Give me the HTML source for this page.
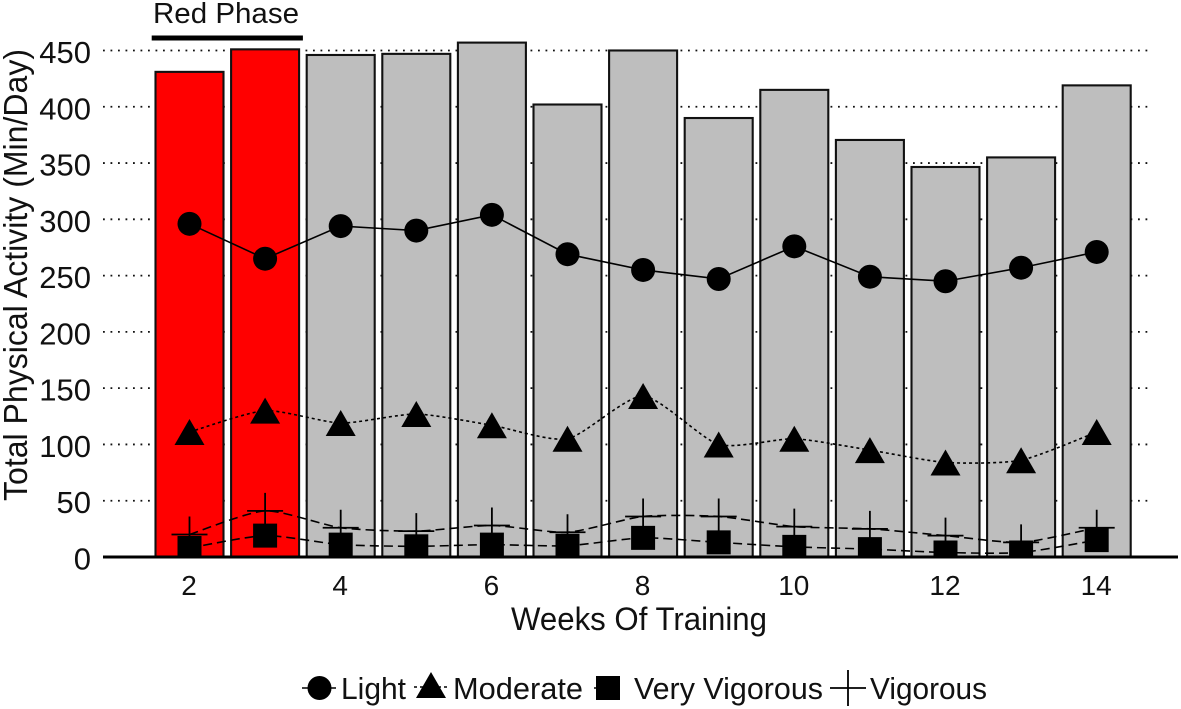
<!DOCTYPE html>
<html lang="en">
<head>
<meta charset="utf-8">
<title>Total Physical Activity by Week of Training</title>
<style>
  html, body { margin: 0; padding: 0; background: #fff; }
  svg { display: block; font-family: "Liberation Sans", Arial, sans-serif; fill: #111; filter: blur(0.35px); }
</style>
</head>
<body>
<svg id="chart" xmlns="http://www.w3.org/2000/svg" width="1181" height="709" viewBox="0 0 1181 709"></svg>
<script>
const weeks = [2, 3, 4, 5, 6, 7, 8, 9, 10, 11, 12, 13, 14];
const totalValues = [431, 451, 446, 447, 457, 402, 450, 390, 415, 370.5, 346.5, 355, 419];
const lightValues = [296, 265, 294, 290, 304, 269, 255, 247, 276, 249, 245, 257, 271];
const moderateValues = [111, 130, 119, 127, 117, 105, 143, 100, 105, 95, 84, 86, 111];
const vigorousValues = [20, 41, 26, 23, 28, 22, 36, 36, 27, 25, 19, 13, 26];
const veryVigorousValues = [8, 19, 11, 9.5, 11, 10, 17, 13, 9, 7, 4, 4, 15];
const yTicks = [0, 50, 100, 150, 200, 250, 300, 350, 400, 450];
const xTicks = [2, 4, 6, 8, 10, 12, 14];
const redPhaseWeeks = [2, 3];

const svg = document.getElementById('chart');
const NS = 'http://www.w3.org/2000/svg';
const xScale = w => 189.5 + (w - 2) * 75.6;
const yScale = v => 557 - v * 1.1256;
const BAR_W = 68;

function make(tag, attrs, parent) {
  const el = document.createElementNS(NS, tag);
  for (const k in attrs) el.setAttribute(k, attrs[k]);
  (parent || svg).appendChild(el);
  return el;
}
function smoothPath(xs, ys, k) {
  let d = 'M' + xs[0] + ' ' + ys[0];
  for (let i = 0; i < xs.length - 1; i++) {
    const p = Math.max(i - 1, 0), n = Math.min(i + 2, xs.length - 1);
    const c1x = xs[i] + (xs[i + 1] - xs[p]) * k;
    const c1y = ys[i] + (ys[i + 1] - ys[p]) * k;
    const c2x = xs[i + 1] - (xs[n] - xs[i]) * k;
    const c2y = ys[i + 1] - (ys[n] - ys[i]) * k;
    d += ' C' + c1x + ' ' + c1y + ' ' + c2x + ' ' + c2y + ' ' + xs[i + 1] + ' ' + ys[i + 1];
  }
  return d;
}
function drawCircle(x, y, parent) {
  return make('circle', { cx: x, cy: y, r: 12, fill: '#000' }, parent);
}
function drawTriangle(x, y, parent) {
  return make('polygon', { points: (x - 15) + ',' + (y + 13) + ' ' + x + ',' + (y - 13) + ' ' + (x + 15) + ',' + (y + 13), fill: '#000' }, parent);
}
function drawSquare(x, y, parent) {
  return make('rect', { x: x - 12, y: y - 12, width: 24, height: 24, fill: '#000' }, parent);
}
function drawCross(x, y, parent) {
  return make('path', { d: 'M' + (x - 18) + ' ' + y + 'H' + (x + 18) + 'M' + x + ' ' + (y - 18) + 'V' + (y + 18), stroke: '#000', 'stroke-width': 1.8, fill: 'none' }, parent);
}

/* gridlines */
const gridGroup = make('g', {});


yTicks.slice(1).forEach(t => {
  const line = make('line', { x1: 103, x2: 1150, y1: yScale(t), y2: yScale(t), stroke: '#111', 'stroke-width': 1.8, 'stroke-dasharray': '1.8 5.7' }, gridGroup);
  
  
});

/* bars */
const barGroup = make('g', {});


weeks.forEach((w, i) => {
  const isRed = redPhaseWeeks.includes(w);
  const bar = make('rect', {
    x: xScale(w) - BAR_W / 2, y: yScale(totalValues[i]),
    width: BAR_W, height: 557 - yScale(totalValues[i]),
    fill: isRed ? '#ff0000' : '#bebebe', stroke: '#111', 'stroke-width': 2.1
  }, barGroup);
  
  
});

/* series */
const xs = weeks.map(xScale);
const seriesList = [
  { key: 'light', values: lightValues, dash: 'none', width: 1.6, smooth: 0, marker: drawCircle },
  { key: 'moderate', values: moderateValues, dash: '3 3', width: 1.6, smooth: 0.11, marker: drawTriangle },
  { key: 'vigorous', values: vigorousValues, dash: '9 5', width: 1.6, smooth: 0.11, marker: drawCross },
  { key: 'very-vigorous', values: veryVigorousValues, dash: '9 5', width: 1.6, smooth: 0.11, marker: drawSquare }
];
const clip = make('clipPath', { id: 'plot-clip' });
make('rect', { x: 0, y: 0, width: 1181, height: 557 }, clip);
seriesList.forEach(s => {
  const group = make('g', { 'clip-path': 'url(#plot-clip)' });
  
  
  const line = make('path', {
    d: smoothPath(xs, s.values.map(yScale), s.smooth), fill: 'none', stroke: '#000',
    'stroke-width': s.width, 'stroke-dasharray': s.dash
  }, group);
  
  
  weeks.forEach((w, i) => {
    const mark = s.marker(xScale(w), yScale(s.values[i]), group);
    
    
  });
});

/* x axis line */
const xAxis = make('line', { x1: 103, x2: 1178, y1: 557, y2: 557, stroke: '#000', 'stroke-width': 3 });



/* tick labels */
yTicks.forEach(t => {
  const label = make('text', { x: 91, y: yScale(t) + 12.5, 'text-anchor': 'end', 'font-size': 31 });
  label.textContent = t;
  
  
});
xTicks.forEach(t => {
  const label = make('text', { x: xScale(t) - 0.5, y: 595, 'text-anchor': 'middle', 'font-size': 28 });
  label.textContent = t;
  
  
});

/* titles */
const xTitle = make('text', { x: 511, y: 630, 'font-size': 32, textLength: 256, lengthAdjust: 'spacingAndGlyphs' });
xTitle.textContent = 'Weeks Of Training';



const yTitle = make('text', { transform: 'translate(27 501) rotate(-90)', 'font-size': 33, textLength: 452, lengthAdjust: 'spacingAndGlyphs' });
yTitle.textContent = 'Total Physical Activity (Min/Day)';



/* red phase annotation */
const phaseLabel = make('text', { x: 153, y: 23, 'font-size': 29, textLength: 146, lengthAdjust: 'spacingAndGlyphs' });
phaseLabel.textContent = 'Red Phase';


const phaseBar = make('line', {
  x1: xScale(redPhaseWeeks[0]) - 37.8, x2: xScale(redPhaseWeeks[1]) + 37.8,
  y1: 38, y2: 38, stroke: '#000', 'stroke-width': 5
});



/* legend */
const legend = make('g', {});



const legendLight = make('g', {}, legend);


make('line', { x1: 302, x2: 336, y1: 688, y2: 688, stroke: '#000', 'stroke-width': 1.5 }, legendLight);
drawCircle(319.5, 688, legendLight);
const legendLightText = make('text', { x: 341, y: 699, 'font-size': 31, textLength: 65, lengthAdjust: 'spacingAndGlyphs' }, legendLight);
legendLightText.textContent = 'Light';

const legendModerate = make('g', {}, legend);


make('line', { x1: 414, x2: 448, y1: 687, y2: 687, stroke: '#000', 'stroke-width': 1.4, 'stroke-dasharray': '3 3' }, legendModerate);
drawTriangle(431, 685, legendModerate);
const legendModerateText = make('text', { x: 453, y: 699, 'font-size': 31, textLength: 130, lengthAdjust: 'spacingAndGlyphs' }, legendModerate);
legendModerateText.textContent = 'Moderate';

const legendVery = make('g', {}, legend);


make('line', { x1: 594, x2: 622, y1: 688, y2: 688, stroke: '#000', 'stroke-width': 1.5, 'stroke-dasharray': '9 5' }, legendVery);
drawSquare(608, 688, legendVery);
const legendVeryText = make('text', { x: 634, y: 699, 'font-size': 31, textLength: 189, lengthAdjust: 'spacingAndGlyphs' }, legendVery);
legendVeryText.textContent = 'Very Vigorous';

const legendVig = make('g', {}, legend);


drawCross(848, 688, legendVig);
const legendVigText = make('text', { x: 870, y: 699, 'font-size': 31, textLength: 117, lengthAdjust: 'spacingAndGlyphs' }, legendVig);
legendVigText.textContent = 'Vigorous';
</script>
</body>
</html>
